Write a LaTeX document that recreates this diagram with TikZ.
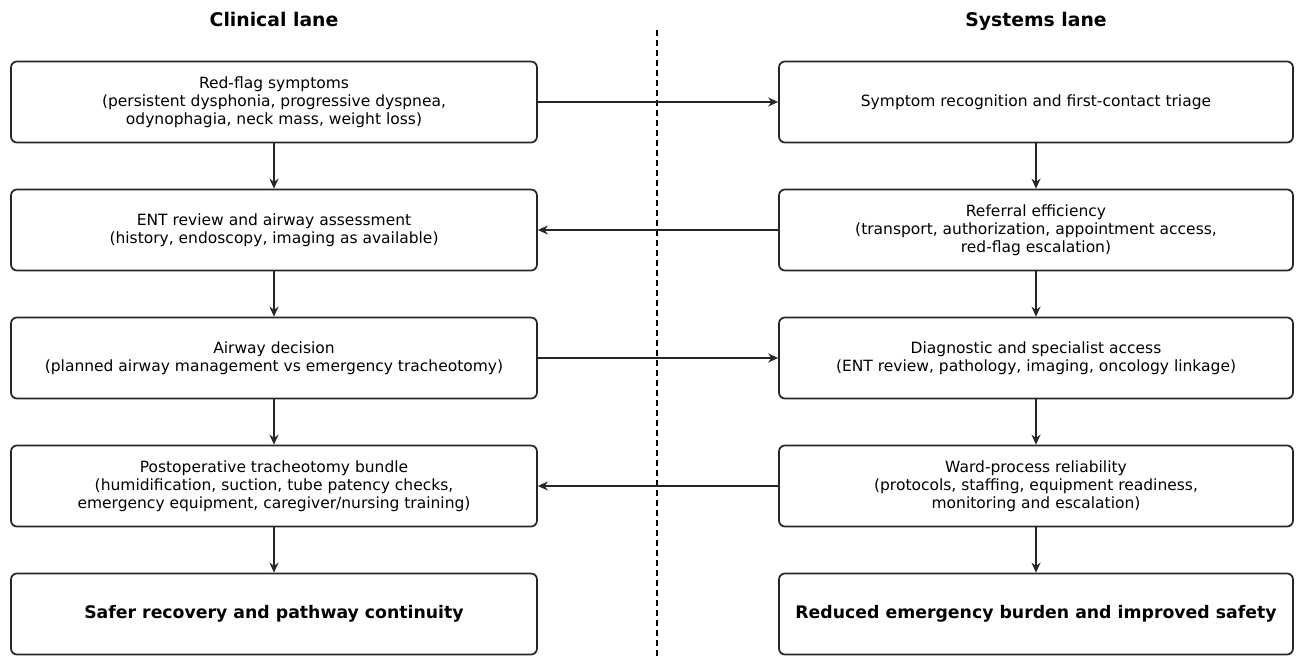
\documentclass[tikz,border=0pt]{standalone}
\usepackage{fontspec}
\setmainfont{DejaVu Sans}
\usetikzlibrary{arrows.meta}
\begin{document}
\begin{tikzpicture}[x=1pt,y=-1pt,
  boxa/.style={draw=black!85, line width=1.7pt, rounded corners=6pt, minimum height=81pt, align=center, font=\fontsize{15.5}{18}\selectfont, inner sep=0pt},
  lbox/.style={boxa, minimum width=526pt},
  rbox/.style={boxa, minimum width=514pt},
  boldtxt/.style={font=\fontsize{17.3}{20}\selectfont\bfseries},
  conn/.style={line width=1.8pt, draw=black!85, -{Stealth[length=10pt,width=9pt]}},
  title/.style={font=\fontsize{18.8}{22}\selectfont\bfseries, anchor=base, inner sep=0pt}]
\useasboundingbox (0,0) rectangle (1304,658);
\node[title] (tl) at (274,27) {Clinical lane};
\node[title] (tr) at (1036,27) {Systems lane};
\coordinate (dtop) at (657,30);
\coordinate (dbot) at (657,658);
\draw[line width=1.3pt, dash pattern=on 6pt off 4pt] (dtop) -- (dbot);

\node[lbox] (l1) at (274,102) {Red-flag symptoms\\(persistent dysphonia, progressive dyspnea,\\odynophagia, neck mass, weight loss)};
\node[lbox] (l2) at (274,230) {ENT review and airway assessment\\(history, endoscopy, imaging as available)};
\node[lbox] (l3) at (274,358) {Airway decision\\(planned airway management vs emergency tracheotomy)};
\node[lbox] (l4) at (274,486) {Postoperative tracheotomy bundle\\(humidification, suction, tube patency checks,\\emergency equipment, caregiver/nursing training)};
\node[lbox, boldtxt] (l5) at (274,614) {Safer recovery and pathway continuity};

\node[rbox] (r1) at (1036,102) {Symptom recognition and first-contact triage};
\node[rbox] (r2) at (1036,230) {Referral efficiency\\(transport, authorization, appointment access,\\red-flag escalation)};
\node[rbox] (r3) at (1036,358) {Diagnostic and specialist access\\(ENT review, pathology, imaging, oncology linkage)};
\node[rbox] (r4) at (1036,486) {Ward-process reliability\\(protocols, staffing, equipment readiness,\\monitoring and escalation)};
\node[rbox, boldtxt] (r5) at (1036,614) {Reduced emergency burden and improved safety};

\draw[conn] (l1) -- (l2);
\draw[conn] (l2) -- (l3);
\draw[conn] (l3) -- (l4);
\draw[conn] (l4) -- (l5);
\draw[conn] (r1) -- (r2);
\draw[conn] (r2) -- (r3);
\draw[conn] (r3) -- (r4);
\draw[conn] (r4) -- (r5);
\draw[conn] (l1) -- (r1);
\draw[conn] (r2) -- (l2);
\draw[conn] (l3) -- (r3);
\draw[conn] (r4) -- (l4);
\end{tikzpicture}
\end{document}
